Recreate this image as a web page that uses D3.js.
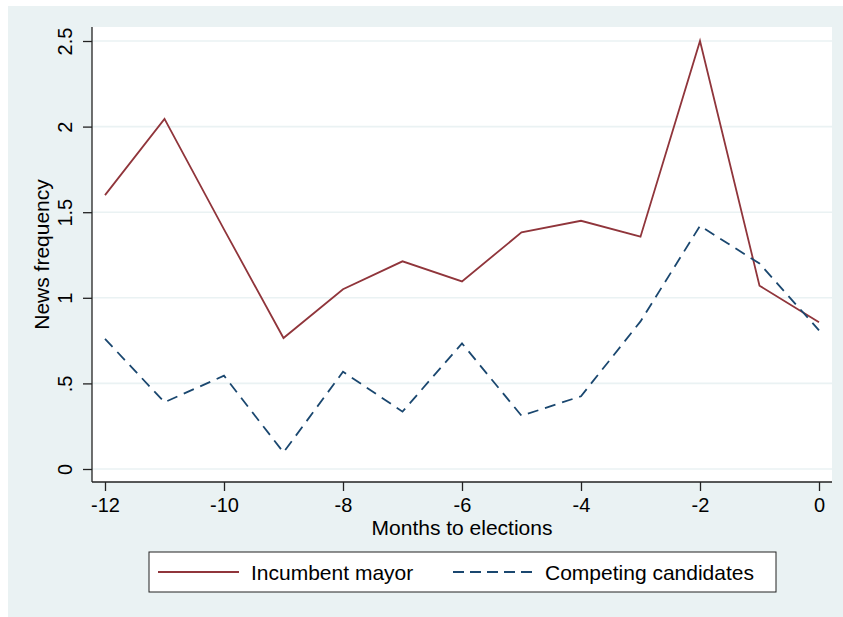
<!DOCTYPE html>
<html>
<head>
<meta charset="utf-8">
<script src="https://cdn.jsdelivr.net/npm/d3@7"></script>
<style>
  body { margin: 0; background: #fff; }
  svg { display: block; font-family: "Liberation Sans", Arial, sans-serif; }
</style>
</head>
<body>
<svg id="plot"></svg>
<script>
// months before the election
months = [-12, -11, -10, -9, -8, -7, -6, -5, -4, -3, -2, -1, 0];
incumbent = [1.60, 2.045, 1.40, 0.765, 1.05, 1.213, 1.096, 1.382, 1.45, 1.357, 2.50, 1.071, 0.857];
competing = [0.76, 0.39, 0.545, 0.097, 0.568, 0.335, 0.734, 0.311, 0.425, 0.862, 1.42, 1.20, 0.81];
yTicks = [0, 0.5, 1, 1.5, 2, 2.5];
yTickLabels = ["0", ".5", "1", "1.5", "2", "2.5"];
xTicks = [-12, -10, -8, -6, -4, -2, 0];
xTickLabels = ["-12", "-10", "-8", "-6", "-4", "-2", "0"];
seriesNames = ["Incumbent mayor", "Competing candidates"];

svgWidth = 843;
svgHeight = 617;
plot = {left: 92, right: 832, top: 27, bottom: 482};
red = "#90353b";
navy = "#1a476f";
bg = "#eaf2f3";

function chartMain() {
    const svg = d3.select("#plot")
        .attr("width", svgWidth)
        .attr("height", svgHeight);

    // outer graph region
    svg.append("rect")
        .attr("x", 8).attr("y", 6)
        .attr("width", svgWidth - 8).attr("height", svgHeight - 6)
        .attr("fill", bg);

    svg.append("rect")
        .attr("x", plot.left).attr("y", plot.top)
        .attr("width", plot.right - plot.left)
        .attr("height", plot.bottom - plot.top)
        .attr("fill", "white");

    x = d3.scaleLinear().domain([-12, 0]).range([105, 819]);
    y = d3.scaleLinear().domain([0, 2.5]).range([469, 41]);

    // grid
    svg.append("g")
        .selectAll("line")
        .data(yTicks)
        .join("line")
        .attr("x1", plot.left).attr("x2", plot.right)
        .attr("y1", d => y(d)).attr("y2", d => y(d))
        .attr("stroke", bg)
        .attr("stroke-width", 1.6);

    const yAxis = svg.append("g")
        .attr("transform", `translate(${plot.left},0)`)
        .call(d3.axisLeft(y).tickValues(yTicks)
            .tickFormat((d, i) => yTickLabels[i]).tickSize(9).tickSizeOuter(0));
    yAxis.select(".domain").attr("d", `M0,${plot.top}V${plot.bottom}`);
    yAxis.selectAll("text")
        .attr("transform", "rotate(-90)")
        .attr("x", 0)
        .attr("y", -20.5)
        .attr("dy", 0)
        .attr("text-anchor", "middle")
        .attr("font-size", 20)
        .attr("fill", "#000");

    const xAxis = svg.append("g")
        .attr("transform", `translate(0,${plot.bottom})`)
        .call(d3.axisBottom(x).tickValues(xTicks)
            .tickFormat((d, i) => xTickLabels[i])
            .tickSize(9).tickPadding(7).tickSizeOuter(0));
    xAxis.select(".domain").attr("d", `M${plot.left},0H${plot.right}`);
    xAxis.selectAll("text")
        .attr("font-size", 20)
        .attr("fill", "#000");

    svg.selectAll(".domain, .tick line")
        .attr("stroke", "#222")
        .attr("stroke-width", 1.3);

    // axis titles
    svg.append("text")
        .text("News frequency")
        .attr("transform", `translate(49,${(plot.top + plot.bottom) / 2}) rotate(-90)`)
        .attr("text-anchor", "middle")
        .attr("font-size", 21);

    svg.append("text")
        .text("Months to elections")
        .attr("x", (plot.left + plot.right) / 2)
        .attr("y", 535)
        .attr("text-anchor", "middle")
        .attr("font-size", 21);

    const line = d3.line()
        .x((d, i) => x(months[i]))
        .y(d => y(d));

    svg.append("path")
        .attr("d", line(incumbent))
        .attr("fill", "none")
        .attr("stroke", red)
        .attr("stroke-width", 1.8);

    svg.append("path")
        .attr("d", line(competing))
        .attr("fill", "none")
        .attr("stroke", navy)
        .attr("stroke-width", 1.8)
        .attr("stroke-dasharray", "11,7");

    // legend
    const lg = svg.append("g");
    lg.append("rect")
        .attr("x", 149).attr("y", 552)
        .attr("width", 627).attr("height", 40)
        .attr("fill", "white")
        .attr("stroke", "#222")
        .attr("stroke-width", 1);

    lg.append("line")
        .attr("x1", 158).attr("x2", 239)
        .attr("y1", 572).attr("y2", 572)
        .attr("stroke", red).attr("stroke-width", 1.8);
    lg.append("text")
        .text(seriesNames[0])
        .attr("x", 251).attr("y", 580)
        .attr("font-size", 21);

    lg.append("line")
        .attr("x1", 453).attr("x2", 534)
        .attr("y1", 572).attr("y2", 572)
        .attr("stroke", navy).attr("stroke-width", 1.8)
        .attr("stroke-dasharray", "11,6");
    lg.append("text")
        .text(seriesNames[1])
        .attr("x", 545).attr("y", 580)
        .attr("font-size", 21);
}

chartMain();
</script>
</body>
</html>
